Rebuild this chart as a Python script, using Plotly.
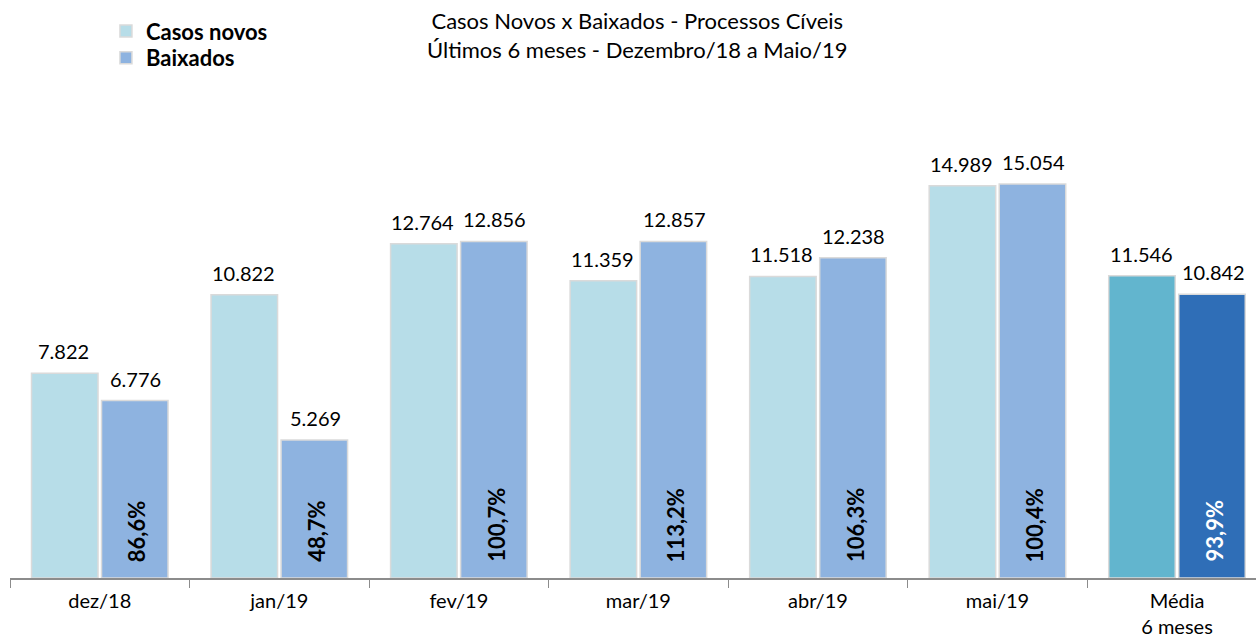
import plotly.graph_objects as go

meses = ["dez/18", "jan/19", "fev/19", "mar/19", "abr/19", "mai/19", "Média<br>6 meses"]
casos_novos = [7822, 10822, 12764, 11359, 11518, 14989, 11546]
baixados = [6776, 5269, 12856, 12857, 12238, 15054, 10842]
percentual = ["86,6%", "48,7%", "100,7%", "113,2%", "106,3%", "100,4%", "93,9%"]

cor_novos = ["#B7DDE8"] * 6 + ["#62B5CE"]
cor_baix = ["#8EB3E0"] * 6 + ["#2F6EB7"]
cor_pct = ["black"] * 6 + ["white"]

def fmt(v):
    return f"{v:,}".replace(",", ".")

fonte = "Lato, Carlito, Calibri, sans-serif"

fig = go.Figure()
fig.add_trace(go.Bar(x=meses, y=casos_novos, name="<b>Casos novos</b>", legend="legend",
                     marker=dict(color=cor_novos, line=dict(color="#DADADA", width=1.5))))
fig.add_trace(go.Bar(x=meses, y=baixados, name="<b>Baixados</b>", legend="legend2",
                     marker=dict(color=cor_baix, line=dict(color="#DADADA", width=1.5))))

# rótulos de valor acima das barras
for m, v in zip(meses, casos_novos):
    fig.add_annotation(x=m, y=v, text=fmt(v), showarrow=False, yanchor="bottom",
                       xshift=-36, yshift=8, font=dict(size=20, color="black", family=fonte))
for m, v in zip(meses, baixados):
    fig.add_annotation(x=m, y=v, text=fmt(v), showarrow=False, yanchor="bottom",
                       xshift=36, yshift=8, font=dict(size=20, color="black", family=fonte))

# percentual baixados / novos, vertical dentro da barra
for m, p, c in zip(meses, percentual, cor_pct):
    fig.add_annotation(x=m, y=0, text=f"<b>{p}</b>", showarrow=False, textangle=-90,
                       yanchor="bottom", xshift=37, yshift=14,
                       font=dict(size=22, color=c, family=fonte))

# título
fig.add_annotation(xref="paper", yref="paper", x=0.504, y=1.135, yanchor="middle",
                   text="Casos Novos x Baixados - Processos Cíveis<br>Últimos 6 meses - Dezembro/18 a Maio/19",
                   showarrow=False, font=dict(size=22, color="black", family=fonte))

leg = dict(xanchor="left", yanchor="top", itemwidth=30,
           font=dict(size=22, color="black", family=fonte), bgcolor="rgba(0,0,0,0)")

fig.update_layout(
    width=1256, height=637,
    margin=dict(l=10, r=0, t=100, b=59, autoexpand=False),
    plot_bgcolor="white", paper_bgcolor="white",
    barmode="group", bargap=0.22, bargroupgap=0.05,
    font=dict(family=fonte, color="black"),
    legend=dict(leg, x=0.077, y=1.188),
    legend2=dict(leg, x=0.077, y=1.132),
    showlegend=True,
)

fig.update_xaxes(range=[-0.5, 6.44], showline=True, linecolor="#8C8C8C", linewidth=1.5,
                 ticks="outside", tickson="boundaries", ticklen=8, tickcolor="#8C8C8C",
                 ticklabelstandoff=4, automargin=False,
                 tickfont=dict(size=20, color="black", family=fonte), showgrid=False)
fig.update_yaxes(range=[0, 18260], visible=False, showgrid=False, automargin=False)

fig.write_html("out.html", config={"displayModeBar": False},
               post_script="document.body.style.margin='0';")
